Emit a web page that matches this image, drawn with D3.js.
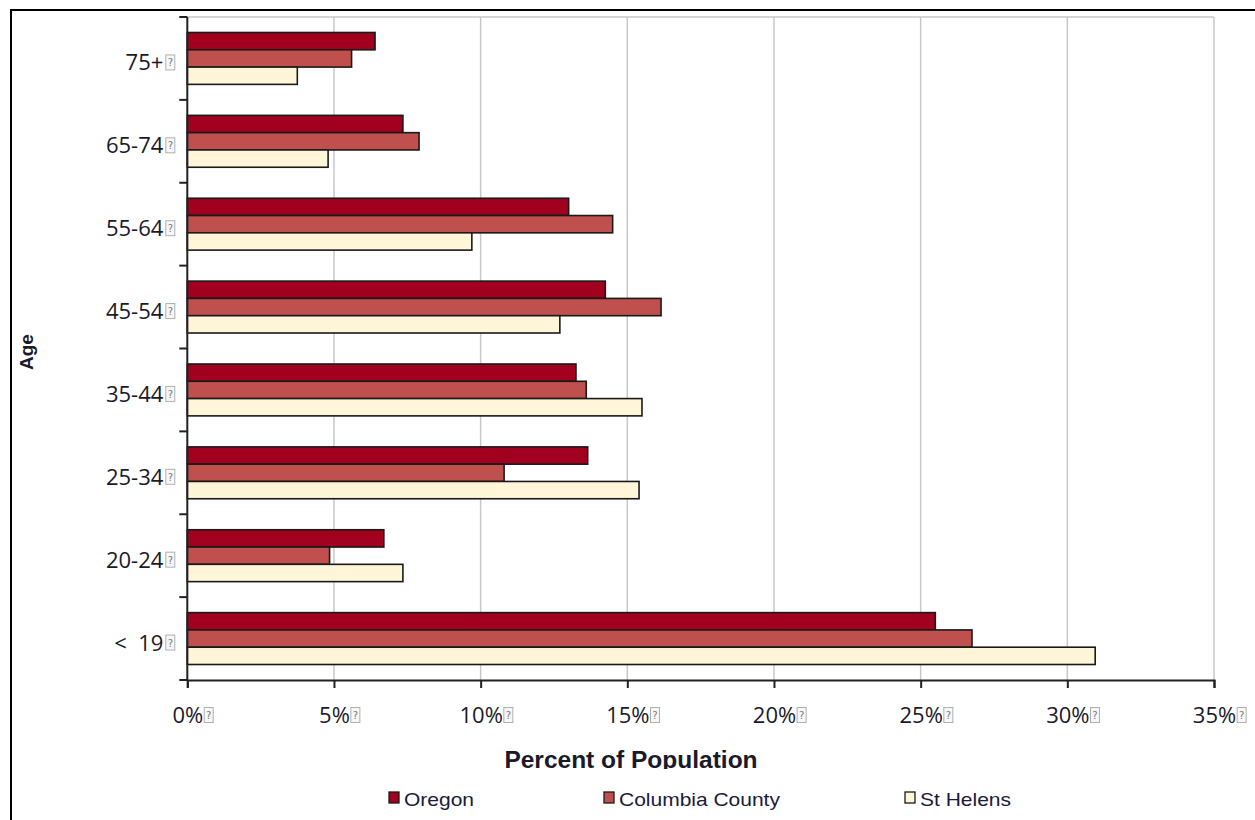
<!DOCTYPE html>
<html>
<head>
<meta charset="utf-8">
<script src="https://cdn.jsdelivr.net/npm/d3@7"></script>
<style>
  html, body { margin: 0; padding: 0; background: #fff; }
  svg { display: block; }
</style>
</head>
<body>
<svg id="chart" width="1255" height="820"></svg>
<script>
// Age groups, top to bottom
const ageGroups = ["75+", "65-74", "55-64", "45-54", "35-44", "25-34", "20-24", "< 19"];
const seriesNames = ["Oregon", "Columbia County", "St Helens"];
// Percent of population per age group
const oregon = [6.4, 7.35, 13.0, 14.25, 13.25, 13.65, 6.7, 25.5];
const columbiaCounty = [5.6, 7.9, 14.5, 16.15, 13.6, 10.8, 4.85, 26.75];
const stHelens = [3.75, 4.8, 9.7, 12.7, 15.5, 15.4, 7.35, 30.95];
const xTicks = [0, 5, 10, 15, 20, 25, 30, 35];
const colors = ["#a1001e", "#c0504d", "#fff5d9"];

const seriesValues = [oregon, columbiaCounty, stHelens];
const svg = d3.select("#chart");
const textColor = "#1a1a2a";

// outer frame
svg.append("rect").attr("x", 11).attr("y", 10).attr("width", 1270).attr("height", 830)
  .attr("fill", "none").attr("stroke", "#000").attr("stroke-width", 2);

const plot = { left: 187.3, right: 1214, top: 17, bottom: 680 };
const x = d3.scaleLinear().domain([0, 35]).range([plot.left, plot.right]);
const y = d3.scaleBand().domain(ageGroups).range([plot.top, plot.bottom])
  .paddingInner(0.374).paddingOuter(0.187);
const ySub = d3.scaleBand().domain(seriesNames).range([0, y.bandwidth()]);

// gridlines
svg.append("g").selectAll("line").data(xTicks.slice(1)).join("line")
  .attr("x1", d => x(d)).attr("x2", d => x(d))
  .attr("y1", plot.top).attr("y2", plot.bottom)
  .attr("stroke", "#c8c8c8").attr("stroke-width", 1.5);
svg.append("line").attr("x1", plot.left).attr("x2", plot.right)
  .attr("y1", plot.top).attr("y2", plot.top)
  .attr("stroke", "#c8c8c8").attr("stroke-width", 1.5);

// bars
const groups = svg.append("g").selectAll("g").data(ageGroups).join("g")
  .attr("transform", d => `translate(0,${y(d)})`);
groups.selectAll("rect")
  .data((g, i) => seriesNames.map((s, k) => ({ s, k, v: seriesValues[k][i] })))
  .join("rect")
  .attr("x", x(0))
  .attr("y", d => ySub(d.s))
  .attr("width", d => x(d.v) - x(0))
  .attr("height", ySub.bandwidth())
  .attr("fill", d => colors[d.k])
  .attr("stroke", "#1a1a1a").attr("stroke-width", 1.6);

// small placeholder-glyph box drawn after each axis label
function glyphBox(g, bx, baseline) {
  g.append("rect").attr("x", bx + 0.5).attr("y", baseline - 15.5)
    .attr("width", 9).attr("height", 15)
    .attr("fill", "#f7f7f7").attr("stroke", "#b0b0b0").attr("stroke-width", 1);
  g.append("text").attr("x", bx + 5).attr("y", baseline - 4)
    .attr("text-anchor", "middle").attr("font-family", "DejaVu Sans")
    .attr("font-size", 10).attr("fill", "#777").text("?");
}

// y axis with category boundary ticks
const yAxisG = svg.append("g");
yAxisG.append("line").attr("x1", plot.left).attr("x2", plot.left)
  .attr("y1", plot.top).attr("y2", plot.bottom + 1)
  .attr("stroke", "#222").attr("stroke-width", 2);
const boundaries = ageGroups.map(d => y(d) - y.step() * y.paddingInner() / 2)
  .concat([plot.bottom]);
yAxisG.selectAll("line.tick").data(boundaries).join("line").attr("class", "tick")
  .attr("x1", plot.left - 8).attr("x2", plot.left)
  .attr("y1", d => d).attr("y2", d => d)
  .attr("stroke", "#222").attr("stroke-width", 2);

const yLabels = yAxisG.selectAll("g.label").data(ageGroups).join("g").attr("class", "label");
yLabels.each(function(d) {
  const g = d3.select(this);
  const base = y(d) + y.bandwidth() / 2 + 12;
  g.append("text").attr("x", plot.left - 24).attr("y", base)
    .attr("text-anchor", "end")
    .attr("font-family", "Open Sans").attr("font-size", 22).attr("fill", textColor)
    .text(d.replace(" ", "\u00a0\u00a0"));
  glyphBox(g, plot.left - 22, base);
});

// x axis
const xAxis = d3.axisBottom(x).tickValues(xTicks).tickSize(8).tickFormat(d => d + "%");
const xAxisG = svg.append("g").attr("transform", `translate(0,${plot.bottom})`).call(xAxis);
xAxisG.select(".domain").attr("stroke", "#222").attr("stroke-width", 2);
xAxisG.selectAll(".tick line").attr("stroke", "#222").attr("stroke-width", 2);
xAxisG.selectAll(".tick text").remove();
xAxisG.selectAll(".tick").each(function(d) {
  const g = d3.select(this);
  const t = g.append("text").attr("x", 0).attr("y", 43)
    .attr("text-anchor", "middle")
    .attr("font-family", "Open Sans").attr("font-size", 22).attr("fill", textColor)
    .text(d + "%");
  const w = t.node().getComputedTextLength();
  glyphBox(g, w / 2 + 0.5, 43);
});

// axis titles
svg.append("text").attr("transform", "translate(33,352) rotate(-90)")
  .attr("text-anchor", "middle").attr("font-family", "Liberation Sans")
  .attr("font-weight", "bold").attr("font-size", 19).attr("fill", textColor)
  .text("Age");

svg.append("clipPath").attr("id", "title-clip")
  .append("rect").attr("x", 0).attr("y", 700).attr("width", 1255).attr("height", 69);
svg.append("text").attr("x", 631).attr("y", 768)
  .attr("clip-path", "url(#title-clip)")
  .attr("text-anchor", "middle").attr("font-family", "Liberation Sans")
  .attr("font-weight", "bold").attr("font-size", 24.5).attr("fill", textColor)
  .text("Percent of Population");

// legend
const legendX = [389, 604, 905];
const legend = svg.append("g").selectAll("g").data(seriesNames).join("g")
  .attr("transform", (d, i) => `translate(${legendX[i]},792)`);
legend.append("rect").attr("width", 10).attr("height", 11)
  .attr("fill", (d, i) => colors[i]).attr("stroke", "#1a1a1a").attr("stroke-width", 1.3);
legend.append("text").attr("transform", "translate(15,14) scale(1.2,1)")
  .attr("font-family", "Liberation Sans").attr("font-size", 17.5).attr("fill", "#1a1a3a")
  .text(d => d);
</script>
</body>
</html>
